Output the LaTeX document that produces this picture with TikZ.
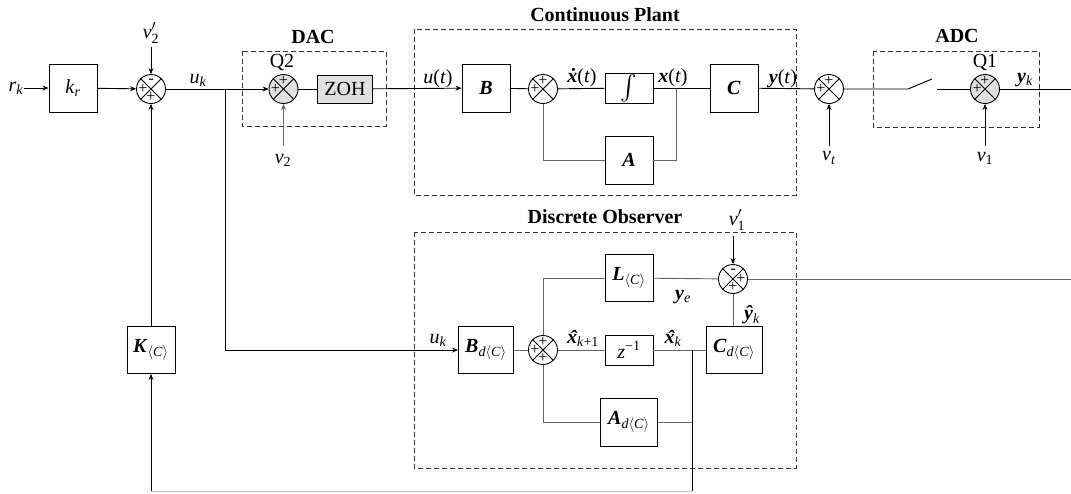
\documentclass[tikz,border=0pt]{standalone}
\usepackage{amsmath}
\usepackage{fontspec}
\setmainfont{Liberation Serif}
\usetikzlibrary{arrows.meta}
\newcommand{\bi}[1]{\textbf{\textit{#1}}}
\newcommand{\mysb}[1]{\textsubscript{#1}}
\newcommand{\angC}{$\langle$\textit{C}$\rangle$}
\newcommand{\hx}{\bi{\ooalign{x\cr\hidewidth\kern0.12em\raisebox{-0.05em}{ˆ}\hidewidth\cr}}}
\begin{document}
\begin{tikzpicture}[x=1pt,y=-1pt,
  every node/.style={font=\fontsize{20}{24}\selectfont, inner sep=0pt},
  lw/.style={line width=0.9pt},
  blk/.style={draw, lw, minimum width=48pt, minimum height=48pt},
  sumc/.style={draw, lw, circle, minimum size=29pt},
  qsum/.style={sumc, fill=black!12},
  sgn/.style={font=\fontsize{16}{16}\selectfont},
  lbl/.style={font=\fontsize{20}{24}\selectfont},
  ttl/.style={font=\fontsize{20}{24}\selectfont\bfseries},
  dbox/.style={draw=black!80, lw, dash pattern=on 5pt off 3pt},
  ln/.style={lw},
  gln/.style={lw, draw=black!60},
  arr/.style={lw, -{Stealth[length=6pt,width=5pt]}},
  garr/.style={arr, draw=black!60}
]
\useasboundingbox (0,0) rectangle (1071,493);

% dashed boxes
\draw[dbox] (242,51) rectangle (386,126);
\draw[dbox] (414,29) rectangle (796,195);
\draw[dbox] (873,51) rectangle (1039,127);
\draw[dbox] (414,232) rectangle (796,468);
\node[ttl] (tdac) at (313,37) {DAC};
\node[ttl] (tplant) at (605,15) {Continuous Plant};
\node[ttl] (tadc) at (957,36) {ADC};
\node[ttl] (tobs) at (605,217) {Discrete Observer};

% top row nodes
\node[lbl] (rk) at (16,88) {\textit{r}\mysb{\textit{k}}};
\node[blk] (kr) at (73,88) {\textit{k}\mysb{\textit{r}}};
\node[sumc] (s1) at (151,89) {};
\node[lbl] (nu2p) at (151,33) {\textit{ν}$^{\prime}_{\text{2}}$};
\coordinate (nu2pc) at (151,47);
\node[lbl] (uk) at (198,80) {\textit{u}\mysb{\textit{k}}};
\coordinate (br1) at (225,89);
\node[qsum] (q2) at (283.5,89) {};
\node[lbl] (q2l) at (282,62) {Q2};
\coordinate (nu2c) at (283.5,146);
\node[lbl] (nu2) at (283,160) {\textit{ν}\mysb{2}};
\node[draw, lw, fill=black!12, minimum width=55pt, minimum height=28pt] (zoh) at (345,89) {ZOH};
\node[lbl] (ut) at (438,79) {\textit{u}(\textit{t})};
\node[blk] (B) at (486,88) {\bi{B}};
\node[sumc] (s2) at (543,89) {};
\node[lbl] (xd) at (582,78) {\bi{\.x}(\textit{t})};
\node[blk, minimum height=30pt] (int) at (629,88) {\fontsize{24}{26}\selectfont$\int$};
\node[lbl] (xt) at (673,78) {\bi{x}(\textit{t})};
\coordinate (br2) at (676,89);
\node[blk] (A) at (629,160) {\bi{A}};
\node[blk] (C) at (734,88) {\bi{C}};
\node[lbl] (yt) at (783,79) {\bi{y}(\textit{t})};
\node[sumc] (s3) at (829,89) {};
\coordinate (nutc) at (829,146);
\node[lbl] (nut) at (829,158) {\textit{ν}\mysb{\textit{t}}};
\coordinate (sw1) at (908,89);
\coordinate (sw2) at (932,79);
\coordinate (sw3) at (937,89);
\node[qsum] (q1) at (985,89) {};
\node[lbl] (q1l) at (985,62) {Q1};
\coordinate (nu1c) at (985,146);
\node[lbl] (nu1) at (985,158) {\textit{ν}\mysb{1}};
\node[lbl] (yk) at (1025,80) {\bi{y}\mysb{\textit{k}}};
\coordinate (outr) at (1071,89);

% observer
\node[sumc] (s4) at (733,279) {};
\node[lbl] (nu1p) at (737,220) {\textit{ν}$^{\prime}_{\text{1}}$};
\coordinate (nu1pc) at (733,236);
\node[blk, minimum height=47pt] (L) at (629,278) {\bi{L}\mysb{\angC}};
\node[lbl] (ye) at (683,297) {\bi{y}\mysb{\textit{e}}};
\coordinate (outr2) at (1071,279);
\node[sumc] (s5) at (543,350) {};
\node[blk, minimum width=55pt, minimum height=47pt] (Bd) at (486,350) {\bi{B}\mysb{\textit{d}\angC}};
\node[lbl] (uk2) at (438,340) {\textit{u}\mysb{\textit{k}}};
\node[lbl] (xk1) at (583,340) {\hx\mysb{\textit{k}+1}};
\node[blk, minimum height=30pt] (z) at (629,350) {\textit{z}\textsuperscript{−1}};
\node[lbl] (xk) at (673,340) {\hx\mysb{\textit{k}}};
\coordinate (br3) at (692,350);
\coordinate (br4) at (692,422);
\coordinate (br5) at (692,491);
\node[blk, minimum width=56pt, minimum height=47pt] (Cd) at (734,350) {\bi{C}\mysb{\textit{d}\angC}};
\node[lbl] (yh) at (752,315) {\bi{ŷ}\mysb{\textit{k}}};
\node[blk, minimum width=57pt] (Ad) at (629,422) {\bi{A}\mysb{\textit{d}\angC}};
\node[blk, minimum height=47pt] (K) at (151,350) {\bi{K}\mysb{\angC}};
\coordinate (bl) at (151,491);
\coordinate (br1b) at (225,350);

% crosses in summing junctions
\foreach \s in {s1,q2,s2,s3,q1,s4,s5}{
  \draw[lw] (\s.north west) -- (\s.south east);
  \draw[lw] (\s.north east) -- (\s.south west);
}
% signs
\node[sgn] at ([yshift=-8pt]s1.center) {+};
\node[sgn] at ([xshift=-8pt]s1.center) {+};
\node[sgn] at ([yshift=8pt]s1.center) {-};
\foreach \s in {q2,s2,s3,q1}{
  \node[sgn] at ([xshift=-8pt]\s.center) {+};
  \node[sgn] at ([yshift=8pt]\s.center) {+};
}
\node[sgn] at ([yshift=-8pt]s4.center) {+};
\node[sgn] at ([xshift=8pt]s4.center) {+};
\node[sgn] at ([yshift=8pt]s4.center) {-};
\node[sgn] at ([yshift=-8pt]s5.center) {+};
\node[sgn] at ([xshift=-8pt]s5.center) {+};
\node[sgn] at ([yshift=8pt]s5.center) {+};

% connectors top row
\draw[arr] (rk) -- (kr);
\draw[arr] (kr) -- (s1);
\draw[arr] (nu2pc) -- (s1);
\draw[ln] (s1) -- (br1);
\draw[arr] (br1) -- (q2);
\draw[garr] (nu2c) -- (q2);
\draw[ln] (q2) -- (zoh);
\draw[arr] (zoh) -- (B);
\draw[ln] (B) -- (s2);
\draw[ln] (s2) -- (int);
\draw[ln] (int) -- (C);
\draw[gln] (br2) |- (A.east);
\draw[gln] (A.west) -| (s2.south);
\draw[ln] (C) -- (s3);
\draw[arr] (nutc) -- (s3);
\draw[ln] (s3) -- (sw1) -- (sw2);
\draw[ln] (sw3) -- (q1);
\draw[arr] (nu1c) -- (q1);
\draw[ln] (q1) -- (outr);

% observer connectors
\draw[ln] (br1) -- (br1b);
\draw[arr] (br1b) -- (Bd);
\draw[gln] (Bd) -- (s5);
\draw[gln] (s5) -- (z);
\draw[gln] (z) -- (Cd);
\draw[gln] (s5.north) |- (L.west);
\draw[gln] (L) -- (s4);
\draw[arr] (nu1pc) -- (s4);
\draw[gln] (Cd.north -| s4) -- (s4);
\draw[gln] (s4) -- (outr2);
\draw[gln] (s5.south) |- (Ad.west);
\draw[gln] (Ad.east) -- (br4);
\draw[ln] (br3) -- (br5);
\draw[lw, draw=black!25] (br5) -- (bl);
\draw[arr] (bl) -- (K);
\draw[arr] (K) -- (s1);
\end{tikzpicture}
\end{document}
